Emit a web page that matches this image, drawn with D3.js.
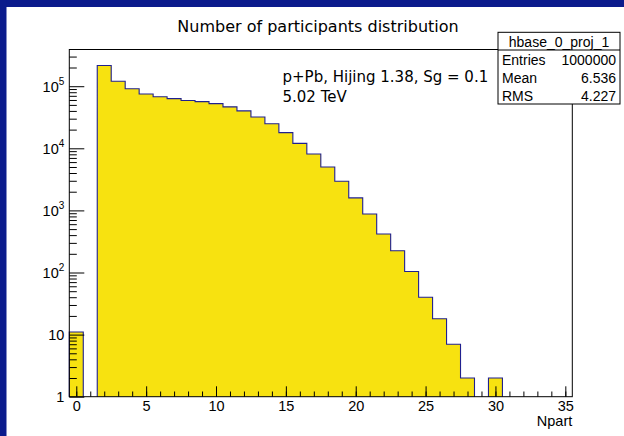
<!DOCTYPE html>
<html>
<head>
<meta charset="utf-8">
<script src="https://cdn.jsdelivr.net/npm/d3@7"></script>
<style>
  html, body { margin: 0; padding: 0; background: #fff; }
  svg { display: block; }
</style>
</head>
<body>
<svg id="chart" width="624" height="436"></svg>
<script>
// Npart bin centres (unit-width bins) and entries per bin
const npart  = [0, 1, 2, 3, 4, 5, 6, 7, 8, 9, 10, 11, 12, 13, 14, 15,
                16, 17, 18, 19, 20, 21, 22, 23, 24, 25, 26, 27, 28, 29, 30];
const counts = [11, 0, 216000, 120000, 91000, 75000, 67500, 63000, 59000, 56500,
                52500, 46500, 40000, 32000, 24800, 17900, 12000, 8100, 5000, 2940,
                1590, 875, 416, 224, 104, 40, 18, 7, 2, 0, 2];

const xMajorTicks = [0, 5, 10, 15, 20, 25, 30, 35];
const yDecades = [1, 10, 100, 1000, 10000, 100000];
const yDecadeLabels = [["1", ""], ["10", ""], ["10", "2"], ["10", "3"], ["10", "4"], ["10", "5"]];

const titleText = "Number of participants distribution";
const noteLines = ["p+Pb, Hijing 1.38, Sg = 0.1", "5.02 TeV"];
const statsName = "hbase_0_proj_1";
const statsRows = [["Entries", "1000000"], ["Mean", "6.536"], ["RMS", "4.227"]];
const xTitle = "Npart";

const svg = d3.select("#chart");
const W = 624, H = 436;
const frame = { left: 69.3, right: 572.3, top: 49.5, bottom: 396.7 };

// canvas border band
const navy = "#0b1b8c";
svg.append("rect").attr("x", 0).attr("y", 0).attr("width", W).attr("height", 7).attr("fill", navy);
svg.append("rect").attr("x", 0).attr("y", 0).attr("width", 6.5).attr("height", H).attr("fill", navy);

const x = d3.scaleLinear().domain([-0.5, 35.5]).range([frame.left, frame.right]);
const y = d3.scaleLog().domain([1, 3.9e5]).range([frame.bottom, frame.top]);

// histogram: one step outline per run of non-empty bins
const runs = [];
let cur = null;
npart.forEach((c, i) => {
  const v = counts[i];
  if (v > 0) {
    if (!cur) { cur = []; runs.push(cur); }
    cur.push({ lo: c - 0.5, hi: c + 0.5, v });
  } else cur = null;
});

const line = d3.line().x(d => x(d[0])).y(d => y(d[1]));
runs.forEach(run => {
  const pts = [[run[0].lo, 1]];
  run.forEach(b => { pts.push([b.lo, b.v]); pts.push([b.hi, b.v]); });
  pts.push([run[run.length - 1].hi, 1]);
  svg.append("path")
    .attr("d", line(pts))
    .attr("fill", "#f7e210")
    .attr("stroke", "#20208f")
    .attr("stroke-width", 1.1)
    .attr("stroke-linejoin", "miter");
});

// frame
svg.append("rect")
  .attr("x", frame.left).attr("y", frame.top)
  .attr("width", frame.right - frame.left).attr("height", frame.bottom - frame.top)
  .attr("fill", "none").attr("stroke", "#000").attr("stroke-width", 1);

const axisFont = "'Liberation Sans', Arial, Helvetica, sans-serif";

// x axis: major ticks every 5, minor every 1, drawn inward
const xMinor = d3.range(0, 36);
const gxMinor = svg.append("g").attr("transform", `translate(0,${frame.bottom})`)
  .call(d3.axisBottom(x).tickValues(xMinor).tickSize(-5.2).tickFormat(() => ""));
const gx = svg.append("g").attr("transform", `translate(0,${frame.bottom})`)
  .call(d3.axisBottom(x).tickValues(xMajorTicks).tickSize(-10.4).tickPadding(4).tickFormat(d3.format("d")));
[gxMinor, gx].forEach(g => {
  g.select(".domain").remove();
  g.selectAll("line").attr("stroke", "#000");
});
gx.selectAll("text").attr("font-family", axisFont).attr("font-size", 14.5).attr("fill", "#000");

svg.append("text")
  .attr("x", frame.right).attr("y", 426)
  .attr("text-anchor", "end")
  .attr("font-family", axisFont).attr("font-size", 14.5)
  .text(xTitle);

// y axis (log): decades long, 2..9 short, drawn inward
const yMinor = [];
yDecades.forEach(d => { for (let k = 2; k <= 9; k++) { const v = d * k; if (v <= y.domain()[1]) yMinor.push(v); } });
const gyMinor = svg.append("g").attr("transform", `translate(${frame.left},0)`)
  .call(d3.axisLeft(y).tickValues(yMinor).tickSize(-7.5).tickFormat(() => ""));
const gy = svg.append("g").attr("transform", `translate(${frame.left},0)`)
  .call(d3.axisLeft(y).tickValues(yDecades).tickSize(-15).tickPadding(5).tickFormat(() => ""));
[gyMinor, gy].forEach(g => {
  g.select(".domain").remove();
  g.selectAll("line").attr("stroke", "#000");
});
gy.selectAll("text").each(function (d, i) {
  const t = d3.select(this)
    .attr("font-family", axisFont).attr("font-size", 14.5).attr("fill", "#000")
    .attr("dy", "0.36em");
  const [base, exp] = yDecadeLabels[i];
  t.append("tspan").text(base);
  if (exp) t.append("tspan").attr("font-size", 10).attr("dy", "-0.7em").text(exp);
});

// title
svg.append("text")
  .attr("x", 318).attr("y", 32)
  .attr("text-anchor", "middle")
  .attr("font-family", "'DejaVu Sans', sans-serif").attr("font-size", 16)
  .text(titleText);

// annotation
noteLines.forEach((s, i) => {
  svg.append("text")
    .attr("x", 282.5).attr("y", 81.5 + i * 20.5)
    .attr("font-family", "'DejaVu Sans', sans-serif").attr("font-size", 15)
    .text(s);
});

// statistics box
const sb = { x: 498, y: 32.3, w: 122, head: 17.7, row: 18 };
const gs = svg.append("g");
gs.append("rect")
  .attr("x", sb.x).attr("y", sb.y).attr("width", sb.w).attr("height", sb.head + sb.row * statsRows.length)
  .attr("fill", "#fff").attr("stroke", "#000").attr("stroke-width", 1);
gs.append("line")
  .attr("x1", sb.x).attr("x2", sb.x + sb.w)
  .attr("y1", sb.y + sb.head).attr("y2", sb.y + sb.head)
  .attr("stroke", "#000");
gs.append("text")
  .attr("x", sb.x + sb.w / 2).attr("y", sb.y + sb.head - 3.5)
  .attr("text-anchor", "middle")
  .attr("font-family", axisFont).attr("font-size", 14)
  .text(statsName);
statsRows.forEach((r, i) => {
  const by = sb.y + sb.head + sb.row * (i + 1) - 3.5;
  gs.append("text").attr("x", sb.x + 4).attr("y", by)
    .attr("font-family", axisFont).attr("font-size", 14).text(r[0]);
  gs.append("text").attr("x", sb.x + sb.w - 4).attr("y", by).attr("text-anchor", "end")
    .attr("font-family", axisFont).attr("font-size", 14).text(r[1]);
});
</script>
</body>
</html>
